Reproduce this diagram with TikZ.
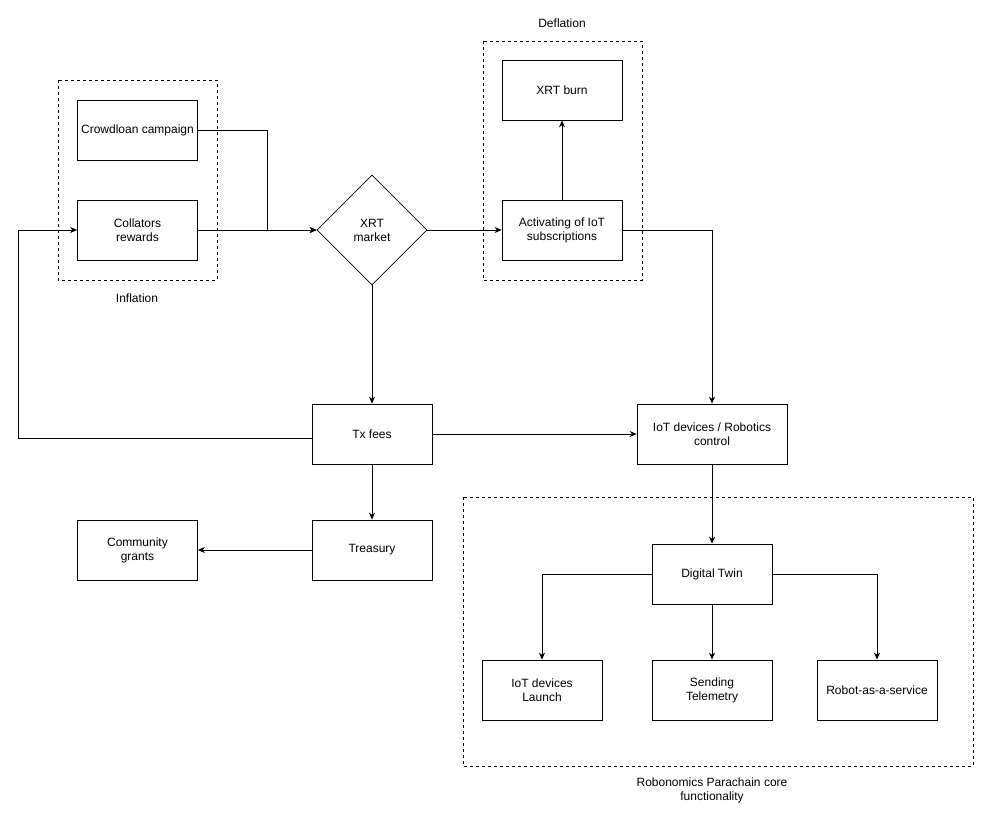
\documentclass[tikz,border=0pt]{standalone}
\usepackage{fontspec}
\setmainfont{Liberation Sans}
\usetikzlibrary{shapes.geometric,arrows.meta}
\begin{document}
\begin{tikzpicture}[x=1pt,y=-1pt,
  every node/.style={font=\fontsize{12}{14}\selectfont,align=center},
  box/.style={draw,line width=0.8pt,minimum width=120pt,minimum height=60pt,inner sep=0pt},
  grp/.style={draw,dashed,line width=0.8pt},
  lbl/.style={inner sep=0pt},
  arr/.style={-{Stealth[length=7pt,width=6pt]},line width=0.8pt},
  ln/.style={line width=0.8pt}]
\useasboundingbox (0,0) rectangle (984,818);
\fill[white] (0,0) rectangle (984,818);
\draw[grp] (58,80) rectangle (217,280);
\node[lbl] (linf) at (137,298) {Inflation};
\draw[grp] (483,41) rectangle (642,280);
\node[lbl] (ldef) at (562,23) {Deflation};
\draw[grp] (463,497) rectangle (973,766);
\node[lbl] (lcore) at (712,790) {Robonomics Parachain core\\functionality};
\node[box] (crowd) at (137.5,130) {Crowdloan campaign};
\node[box] (coll) at (137.5,230) {Collators\\rewards};
\node[draw,diamond,aspect=1,line width=0.8pt,minimum width=110pt,minimum height=110pt,inner sep=0pt] (xrt) at (372,230) {XRT\\market};
\node[box] (burn) at (562,90) {XRT burn};
\node[box] (act) at (562,230) {Activating of IoT\\subscriptions};
\node[box] (tx) at (372,434) {Tx fees};
\node[box,minimum width=150pt] (iot) at (712,434) {IoT devices / Robotics\\control};
\node[box] (comm) at (137.5,550) {Community\\grants};
\node[box] (treas) at (372,550) {Treasury};
\node[box] (dt) at (712,574) {Digital Twin};
\node[box] (launch) at (542,690) {IoT devices\\Launch};
\node[box] (tele) at (712,690) {Sending\\Telemetry};
\node[box] (raas) at (877,690) {Robot-as-a-service};
\draw[arr] (crowd.east) -- (267,130) -- (267,230) -- (xrt.west);
\draw[arr] (coll.east) -- (xrt.west);
\draw[arr] ([yshift=-4pt]tx.west) -- (18,438) -- (18,230) -- (coll.west);
\draw[arr] (xrt.east) -- (act.west);
\draw[arr] (act.north) -- (burn.south);
\draw[arr] (act.east) -- (712,230) -- (iot.north);
\draw[arr] (xrt.south) -- (tx.north);
\draw[arr] (tx.east) -- (iot.west);
\draw[arr] (tx.south) -- (treas.north);
\draw[arr] (treas.west) -- (comm.east);
\draw[arr] (iot.south) -- (dt.north);
\draw[arr] (dt.west) -- (542,574) -- (launch.north);
\draw[arr] (dt.east) -- (877,574) -- (raas.north);
\draw[arr] (dt.south) -- (tele.north);
\end{tikzpicture}
\end{document}
